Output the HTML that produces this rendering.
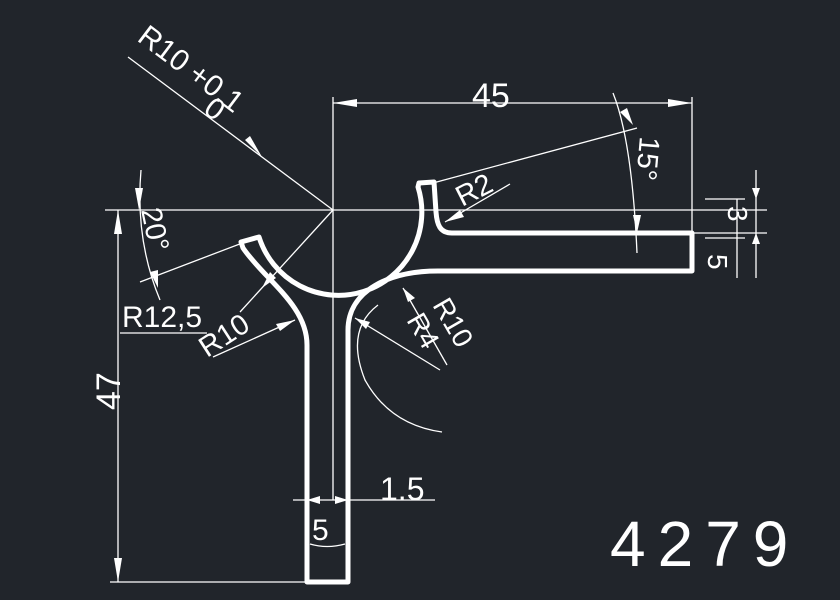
<!DOCTYPE html>
<html><head><style>
html,body{margin:0;padding:0;background:#21252b;}
svg{display:block}
text{font-family:"Liberation Sans",sans-serif;fill:#fff;font-weight:normal}
</style></head><body>
<svg width="840" height="600" viewBox="0 0 840 600" xmlns="http://www.w3.org/2000/svg">
<rect width="840" height="600" fill="#21252b"/>
<g stroke="#fff" stroke-width="1.3" fill="none">
<line x1="105" y1="210" x2="767" y2="210"/>
<line x1="333" y1="97" x2="333" y2="500"/>
<line x1="333" y1="103" x2="692" y2="103"/>
<line x1="692" y1="97" x2="692" y2="233"/>
<line x1="128" y1="57" x2="333" y2="210"/>
<line x1="333" y1="210" x2="240" y2="312"/>
<line x1="118" y1="210" x2="118" y2="582"/>
<line x1="110" y1="582" x2="307" y2="582"/>
<path d="M141 170 Q135 240 160 300"/>
<line x1="140" y1="282" x2="258" y2="237"/>
<line x1="120" y1="333" x2="207" y2="333"/>
<line x1="213" y1="357" x2="295" y2="320"/>
<line x1="433" y1="183" x2="637" y2="128"/>
<line x1="445" y1="222" x2="510" y2="184"/>
<path d="M613 93 Q632 140 637 253"/>
<line x1="705" y1="199" x2="745" y2="199"/>
<line x1="692" y1="233" x2="767" y2="233"/>
<line x1="705" y1="238" x2="745" y2="238"/>
<line x1="737" y1="199" x2="737" y2="278"/>
<line x1="756" y1="170" x2="756" y2="278"/>
<path d="M378 305 Q345 330 365 380 Q390 425 442 432"/>
<line x1="355" y1="318" x2="440" y2="370"/>
<line x1="403" y1="288" x2="447" y2="365"/>
<line x1="293" y1="500" x2="435" y2="500"/>
<path d="M310 544 Q327 549 345 544"/>
</g>
<g fill="#fff">
<polygon points="333,103 357,99 357,107"/>
<polygon points="692,103 668,99 668,107"/>
<polygon points="262,157 245,140 250,136"/>
<polygon points="118,210 114,234 122,234"/>
<polygon points="118,582 114,558 122,558"/>
<polygon points="139,210 135,188 143,188"/>
<polygon points="158,288 150,272 158,270"/>
<polygon points="262,288 270,272 276,278"/>
<polygon points="295,320 276,324 280,331"/>
<polygon points="445,222 460,210 464,217"/>
<polygon points="633,125 620,112 627,108"/>
<polygon points="637,233 633,215 641,215"/>
<polygon points="756,199 752,188 760,188"/>
<polygon points="756,233 752,244 760,244"/>
<polygon points="307,500 320,496 320,504"/>
<polygon points="348,500 335,496 335,504"/>
<polygon points="355,318 370,322 366,329"/>
<polygon points="403,288 408,302 415,298"/>
</g>
<path d="M307 582 L307 345 C307 305 265 280 243 248 L241 242 L259 237 A80 80 0 0 0 418 187 L419 183 L434 182 L436 212 C437 225 440 233 452 233 L692 233 L692 271 L438 271 C390 271 348 290 348 330 L348 582 Z" fill="none" stroke="#fff" stroke-width="5" stroke-linejoin="round"/>
<text x="0" y="0" font-size="30" transform="translate(136,40) rotate(37)">R10 +0.1</text>
<text x="0" y="0" font-size="30" transform="translate(202,112) rotate(37)">0</text>
<text x="472" y="107" font-size="34">45</text>
<text x="0" y="0" font-size="34" transform="translate(120,410) rotate(-90)">47</text>
<text x="0" y="0" font-size="29" transform="translate(141,210) rotate(78)">20°</text>
<text x="122" y="327" font-size="30">R12,5</text>
<text x="0" y="0" font-size="29" transform="translate(207,358) rotate(-33)">R10</text>
<text x="0" y="0" font-size="29" transform="translate(462,207) rotate(-27)">R2</text>
<text x="0" y="0" font-size="29" transform="translate(640,136) rotate(95)">15°</text>
<text x="0" y="0" font-size="28" transform="translate(728,206) rotate(90)">3</text>
<text x="0" y="0" font-size="28" transform="translate(708,254) rotate(90)">5</text>
<text x="0" y="0" font-size="28" transform="translate(432,305) rotate(60)">R10</text>
<text x="0" y="0" font-size="28" transform="translate(406,320) rotate(60)">R4</text>
<text x="380" y="500" font-size="32">1.5</text>
<text x="312" y="540" font-size="30">5</text>
<text x="610" y="566" font-size="64" letter-spacing="12">4279</text>
</svg>
</body></html>
